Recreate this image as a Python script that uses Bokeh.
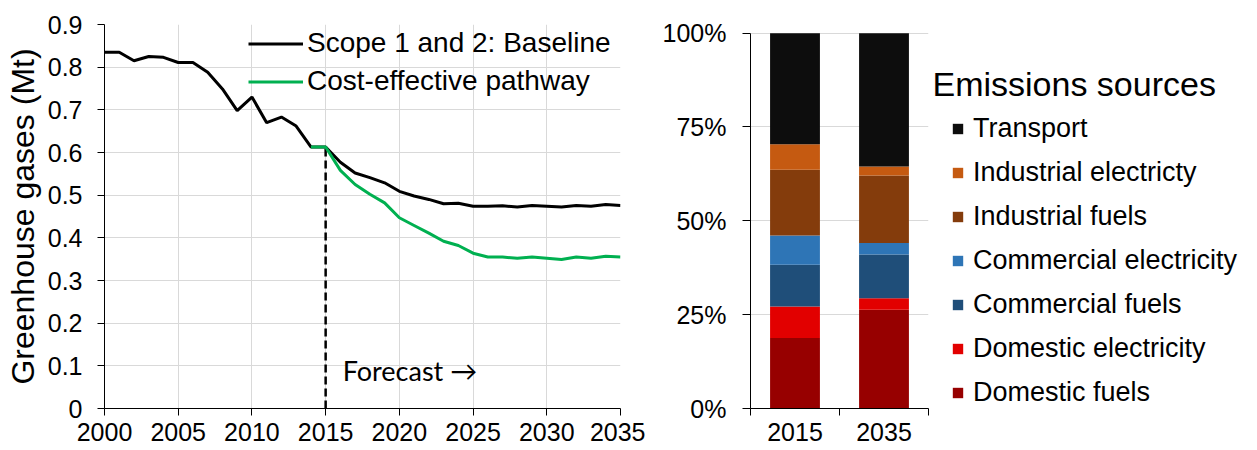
from bokeh.plotting import figure
from bokeh.layouts import row
from bokeh.models import (ColumnDataSource, FixedTicker, Legend, LegendItem, Label, Range1d)
from bokeh.embed import file_html
from bokeh.resources import INLINE

# ---------------- data ----------------
years = list(range(2000, 2036))
baseline = [0.835, 0.835, 0.815, 0.825, 0.823, 0.811, 0.811, 0.788, 0.749, 0.698,
            0.730, 0.670, 0.683, 0.662, 0.613, 0.613,
            0.577, 0.552, 0.541, 0.529, 0.509, 0.498, 0.490, 0.480, 0.481, 0.474,
            0.474, 0.475, 0.472, 0.476, 0.474, 0.472, 0.476, 0.474, 0.478, 0.476]
pathway_years = list(range(2014, 2036))
pathway = [0.613, 0.613, 0.558, 0.525, 0.502, 0.482, 0.447, 0.429, 0.411, 0.392,
           0.382, 0.364, 0.355, 0.355, 0.352, 0.355, 0.352, 0.349, 0.355, 0.352,
           0.357, 0.355]
forecast_year = 2015
x_ticks = [2000, 2005, 2010, 2015, 2020, 2025, 2030, 2035]
y_ticks = [0, 0.1, 0.2, 0.3, 0.4, 0.5, 0.6, 0.7, 0.8, 0.9]
y_labels = ["0", "0.1", "0.2", "0.3", "0.4", "0.5", "0.6", "0.7", "0.8", "0.9"]
line_names = ["Scope 1 and 2: Baseline", "Cost-effective pathway"]

bar_years = ["2015", "2035"]
sources = ["Domestic fuels", "Domestic electricity", "Commercial fuels",
           "Commercial electricity", "Industrial fuels", "Industrial electricty",
           "Transport"]
share_2015 = [18.8, 8.4, 11.1, 7.8, 17.5, 6.8, 29.6]
share_2035 = [26.3, 3.1, 11.6, 3.1, 18.0, 2.4, 35.5]
colors = ["#970000", "#e20000", "#1f4e79", "#2e75b6", "#843c0c", "#c55a11", "#0d0d0d"]
pct_ticks = [0, 25, 50, 75, 100]
pct_labels = ["0%", "25%", "50%", "75%", "100%"]

FONT = "Liberation Sans"
GRID = "#d9d9d9"
TOP, BOTTOM, H = 24, 42, 450


def style_axis(ax, size="25px"):
    ax.axis_line_color = "black"
    ax.axis_line_width = 1
    ax.major_tick_line_color = "black"
    ax.major_tick_in = 0
    ax.major_tick_out = 7
    ax.minor_tick_line_color = None
    ax.major_label_text_font = FONT
    ax.major_label_text_font_size = size
    ax.major_label_text_color = "black"


# ---------------- left: line chart ----------------
p1 = figure(width=645, height=H, x_range=(2000, 2035), y_range=(0, 0.9),
            output_backend="svg", toolbar_location=None,
            min_border_left=104, min_border_right=25, min_border_top=TOP, min_border_bottom=BOTTOM)
p1.outline_line_color = None
p1.background_fill_color = "white"

p1.xaxis.ticker = FixedTicker(ticks=x_ticks)
p1.yaxis.ticker = FixedTicker(ticks=y_ticks)
p1.yaxis.major_label_overrides = {t: l for t, l in zip(y_ticks, y_labels)}
style_axis(p1.xaxis[0])
style_axis(p1.yaxis[0])
p1.xaxis.major_label_standoff = 7
p1.yaxis.major_label_standoff = 15
p1.yaxis.axis_label = "Greenhouse gases (Mt)"
p1.yaxis.axis_label_text_font = FONT
p1.yaxis.axis_label_text_font_size = "32px"
p1.yaxis.axis_label_text_font_style = "normal"
p1.yaxis.axis_label_text_color = "black"
p1.yaxis.axis_label_standoff = 4
p1.xgrid.ticker = FixedTicker(ticks=x_ticks)
p1.ygrid.ticker = FixedTicker(ticks=y_ticks)
p1.xgrid.grid_line_color = GRID
p1.ygrid.grid_line_color = GRID

fy = baseline[years.index(forecast_year)]
p1.segment(x0=[forecast_year], y0=[0], x1=[forecast_year], y1=[fy],
           line_color="black", line_width=2.5, line_dash="8 4")

r_base = p1.line(years, baseline, line_color="black", line_width=3)
r_path = p1.line(pathway_years, pathway, line_color="#00b050", line_width=3)

leg1 = Legend(items=[LegendItem(label=line_names[0], renderers=[r_base]),
                     LegendItem(label=line_names[1], renderers=[r_path])],
              location=(144, 311), margin=0, padding=0, spacing=6,
              label_height=31, glyph_height=31, glyph_width=55, label_standoff=4,
              label_text_font=FONT, label_text_font_size="28px",
              label_text_color="black",
              border_line_alpha=0, background_fill_alpha=0)
p1.add_layout(leg1)

p1.add_layout(Label(x=forecast_year, y=0.089, x_offset=17, text="Forecast \u2192",
                    text_font="Lato", text_font_size="27px", text_color="black",
                    text_baseline="middle"))

# ---------------- middle: stacked bars ----------------
p2 = figure(width=285, height=H, x_range=(0, 2), y_range=(0, 102.3),
            output_backend="svg", toolbar_location=None,
            min_border_left=105, min_border_right=2, min_border_top=TOP, min_border_bottom=BOTTOM)
p2.outline_line_color = None
p2.background_fill_color = "white"

data = {"x": [i + 0.5 for i in range(len(bar_years))]}
for i, s in enumerate(sources):
    data[s] = [share_2015[i], share_2035[i]]
src = ColumnDataSource(data)
rs = p2.vbar_stack(sources, x="x", width=0.56, color=colors, source=src, line_color=None)

p2.xaxis.ticker = FixedTicker(ticks=data["x"], minor_ticks=[0, 1, 2])
p2.xaxis.major_label_overrides = {x: y for x, y in zip(data["x"], bar_years)}
style_axis(p2.xaxis[0])
p2.xaxis.major_tick_out = 0
p2.xaxis.minor_tick_line_color = "black"
p2.xaxis.minor_tick_in = 0
p2.xaxis.minor_tick_out = 7
p2.xaxis.major_label_standoff = 7
p2.yaxis.ticker = FixedTicker(ticks=pct_ticks)
p2.yaxis.major_label_overrides = {t: l for t, l in zip(pct_ticks, pct_labels)}
p2.yaxis.bounds = (0, 100)
style_axis(p2.yaxis[0])
p2.yaxis.major_tick_out = 8
p2.yaxis.major_label_standoff = 16
p2.xgrid.visible = False
p2.ygrid.ticker = FixedTicker(ticks=pct_ticks)
p2.ygrid.grid_line_color = GRID

# ---------------- right: legend panel ----------------
W3 = 327
p3 = figure(width=W3, height=H, x_range=(0, W3), y_range=(0, H - TOP - BOTTOM),
            output_backend="svg", toolbar_location=None,
            x_axis_type=None, y_axis_type=None,
            min_border_left=0, min_border_right=0, min_border_top=TOP, min_border_bottom=BOTTOM)
p3.outline_line_color = None
p3.grid.visible = False
# the same stacked data, mapped onto ranges that lie far outside this panel's view,
# so that only the legend swatches show
p3.extra_x_ranges = {"off": Range1d(-30, -28)}
p3.extra_y_ranges = {"offy": Range1d(-500, -400)}
dummies = p3.vbar_stack(sources, x="x", width=0.56, color=colors, source=src,
                        line_color=None, x_range_name="off", y_range_name="offy")

items = [LegendItem(label=s, renderers=[r]) for s, r in zip(sources, dummies)][::-1]
leg2 = Legend(items=items, location=(21, 0), margin=0, padding=0, spacing=13,
              label_height=31, glyph_height=13, glyph_width=13, label_standoff=9,
              label_text_font=FONT, label_text_font_size="27px", label_text_color="black",
              border_line_alpha=0, background_fill_alpha=0)
p3.add_layout(leg2)

p3.add_layout(Label(x=2, y=H - BOTTOM - 83, text="Emissions sources", text_font=FONT,
                    text_font_size="34px", text_color="black", text_baseline="middle"))

layout = row(p1, p2, p3)
open("out.html", "w").write(file_html(layout, INLINE))
